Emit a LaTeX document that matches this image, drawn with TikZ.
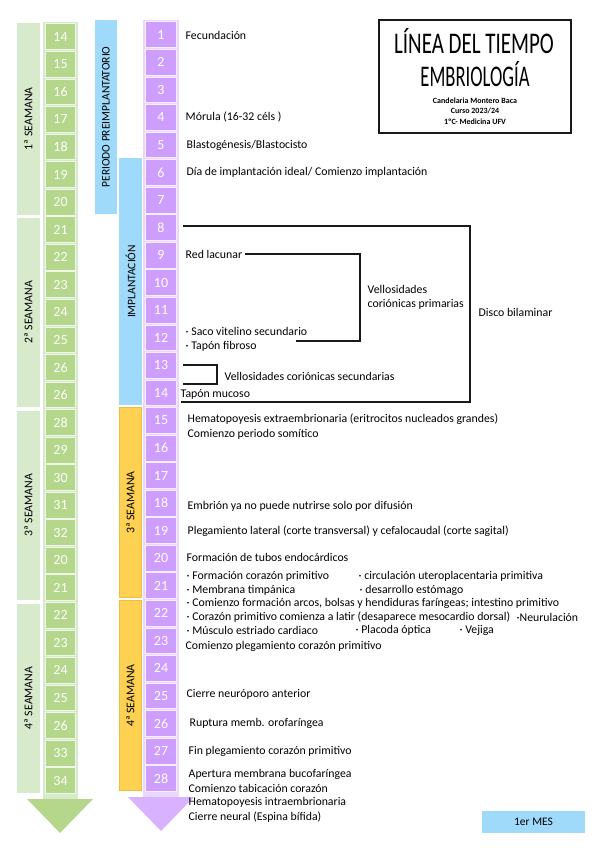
\documentclass[tikz,border=0pt]{standalone}
\usepackage{fontspec}
\setmainfont{Carlito}
\definecolor{greenD}{RGB}{180,215,140}
\definecolor{greenL}{RGB}{216,234,204}
\definecolor{purp}{RGB}{206,158,255}
\definecolor{purpL}{RGB}{234,214,255}
\definecolor{blu}{RGB}{160,218,250}
\definecolor{orng}{RGB}{255,209,82}
\definecolor{orngD}{RGB}{240,190,60}
\definecolor{linec}{RGB}{25,25,25}
\begin{document}
\begin{tikzpicture}[x=1pt,y=-1pt,
  txt/.style={anchor=west, inner sep=0.5pt, font=\fontsize{11.8}{14}\selectfont},
  gcell/.style={fill=greenD, draw=greenL!40!white, line width=0.8pt, minimum width=30pt, minimum height=25.8pt, inner sep=0pt, text=white, font=\fontsize{14}{14}\selectfont},
  pcell/.style={fill=purp, draw=purpL!40!white, line width=0.8pt, minimum width=31pt, minimum height=25.8pt, inner sep=0pt, text=white, font=\fontsize{14}{14}\selectfont},
  wband/.style={rotate=90, fill=greenL, minimum height=23pt, inner sep=0pt, font=\fontsize{11.8}{13}\selectfont},
  bbar/.style={rotate=90, fill=blu, inner sep=0pt, font=\fontsize{11.5}{13}\selectfont},
  obar/.style={rotate=90, fill=orng, draw=orngD, line width=0.6pt, inner sep=0pt, font=\fontsize{11.8}{13}\selectfont},
  conn/.style={draw=linec, line width=1.3pt},
  thin/.style={draw=linec, line width=1.1pt}]
\useasboundingbox (0,0) rectangle (599,848);
\fill[white] (0,0) rectangle (599,848);

% green week bands
\node[wband, minimum width=191.5pt] (w1) at (28.5,118.8) {1ª SEAMANA};
\node[wband, minimum width=189pt] (w2) at (28.5,312.3) {2ª SEAMANA};
\node[wband, minimum width=189pt] (w3) at (28.5,505.2) {3ª SEAMANA};
\node[wband, minimum width=189pt] (w4) at (28.5,698.1) {4ª SEAMANA};

% green day column
\fill[greenL] (43,22) rectangle (78,800);
\foreach \n [count=\i] in {14,15,16,17,18,19,20,21,22,23,24,25,26,26,28,29,30,31,32,20,21,22,23,24,25,26,33,34} {
  \pgfmathsetmacro\yc{23+(\i-1)*27.55+13.78}
  \node[gcell] (g\i) at (60.5,\yc) {\n};
}
\fill[greenD] (27,799) -- (93,799) -- (60,833) -- cycle;

% period bars
\node[bbar, minimum width=194pt, minimum height=22pt] (pre) at (106,117) {PERIODO PREIMPLANTATORIO};
\node[bbar, minimum width=247pt, minimum height=23pt] (imp) at (130.5,281.5) {IMPLANTACIÓN};
\node[obar, minimum width=190pt, minimum height=22pt] (s3) at (130.5,502.5) {3ª SEAMANA};
\node[obar, minimum width=190pt, minimum height=22pt] (s4) at (130.5,695.5) {4ª SEAMANA};

% purple day column
\fill[purpL] (143,20) rectangle (179,798);
\foreach \i in {1,...,28} {
  \pgfmathsetmacro\yc{21+(\i-1)*27.55+13.78}
  \node[pcell] (p\i) at (161,\yc) {\i};
}
\fill[purp!80!white] (128,797) -- (194,797) -- (161,831) -- cycle;

% title
\node[draw=linec, line width=1.1pt, minimum width=192pt, minimum height=113pt, inner sep=0pt] (title) at (475,76.5) {};
\node[inner sep=0pt] (tl1) at (474,41) {\scalebox{0.70}[1]{\fontsize{30}{31}\selectfont LÍNEA DEL TIEMPO}};
\node[inner sep=0pt] (tl2) at (475,74) {\scalebox{0.62}[1]{\fontsize{30}{31}\selectfont EMBRIOLOGÍA}};
\node[inner sep=0pt, font=\bfseries\fontsize{8}{9}\selectfont] (tl3) at (475,101) {Candelaria Montero Baca};
\node[inner sep=0pt, font=\bfseries\fontsize{8}{9}\selectfont] (tl4) at (475,111) {Curso 2023/24};
\node[inner sep=0pt, font=\bfseries\fontsize{8}{9}\selectfont] (tl5) at (475,121.5) {1ºC- Medicina UFV};

% events
\node[txt] (t1) at (185,35) {Fecundación};
\node[txt] (t2) at (185,117) {Mórula (16-32 céls )};
\node[txt] (t3) at (186,145) {Blastogénesis/Blastocisto};
\node[txt] (t4) at (186,172) {Día de implantación ideal/ Comienzo implantación};
\node[txt] (red) at (185,254) {Red lacunar};
\node[txt, align=left] (vp) at (367,297.5) {Vellosidades\\coriónicas primarias};
\node[txt] (disco) at (478,312) {Disco bilaminar};
\node[txt] (saco) at (185,331) {· Saco vitelino secundario};
\node[txt] (fib) at (185,346) {· Tapón fibroso};
\node[txt] (vs) at (224,376) {Vellosidades coriónicas secundarias};
\node[txt] (muc) at (180,394) {Tapón mucoso};
\node[txt] (hema) at (187,419) {Hematopoyesis extraembrionaria (eritrocitos nucleados grandes)};
\node[txt] (som) at (187,434) {Comienzo periodo somítico};
\node[txt] (emb) at (187,506) {Embrión ya no puede nutrirse solo por difusión};
\node[txt] (pleg) at (187,531) {Plegamiento lateral (corte transversal) y cefalocaudal (corte sagital)};
\node[txt] (tub) at (186,557) {Formación de tubos endocárdicos};
\node[txt] (fc) at (186,576) {· Formación corazón primitivo};
\node[txt] (circ) at (358,576) {· circulación uteroplacentaria primitiva};
\node[txt] (memb) at (186,590) {· Membrana timpánica};
\node[txt] (est) at (359,590) {· desarrollo estómago};
\node[txt] (arc) at (186,603) {· Comienzo formación arcos, bolsas y hendiduras faríngeas; intestino primitivo};
\node[txt] (lat) at (186,617) {· Corazón primitivo comienza a latir (desaparece mesocardio dorsal)};
\node[txt] (neu) at (516,617) {·Neurulación};
\node[txt] (mus) at (186,630) {· Músculo estriado cardiaco};
\node[txt] (plac) at (355,630) {· Placoda óptica};
\node[txt] (vej) at (459,630) {· Vejiga};
\node[txt] (cpl) at (185,646) {Comienzo plegamiento corazón primitivo};
\node[txt] (cna) at (186,694) {Cierre neuróporo anterior};
\node[txt] (rup) at (189,723) {Ruptura memb. orofaríngea};
\node[txt] (fin) at (188,751) {Fin plegamiento corazón primitivo};
\node[txt] (ap) at (188,774) {Apertura membrana bucofaríngea};
\node[txt] (tab) at (188,788) {Comienzo tabicación corazón};
\node[txt] (hin) at (188,802) {Hematopoyesis intraembrionaria};
\node[txt] (cn) at (188,817) {Cierre neural (Espina bífida)};

% brackets
\coordinate (b0) at (183,226);
\coordinate (b1) at (470,226);
\coordinate (b2) at (470,402);
\coordinate (b3) at (181,402);
\draw[conn] (b0) -- (b1) -- (b2) -- (b3);

\coordinate (r1) at (360,254);
\coordinate (r2) at (360,341);
\coordinate (r3) at (296,341);
\draw[thin] (red.east) ++(2,0) -- (r1) -- (r2) -- (r3);

\coordinate (s0) at (183,365);
\coordinate (s1) at (217,365);
\coordinate (s2) at (217,384);
\coordinate (s3) at (183,384);
\draw[thin] (s0) -- (s1) -- (s2) -- (s3);

% 1er MES
\node[fill=blu, minimum width=103pt, minimum height=22pt, inner sep=0pt, font=\fontsize{11.5}{13}\selectfont] (mes) at (533.5,822) {1er MES};
\end{tikzpicture}
\end{document}
